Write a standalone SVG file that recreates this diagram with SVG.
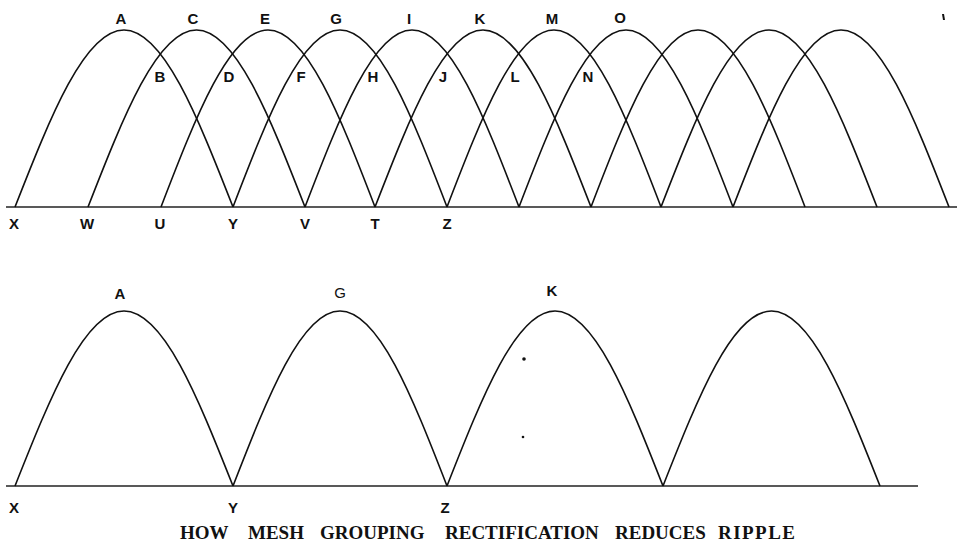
<svg xmlns="http://www.w3.org/2000/svg" width="961" height="543" viewBox="0 0 961 543">
<style>
.bg{fill:#ffffff}
.arc{fill:none;stroke:#111;stroke-width:1.6;stroke-linejoin:round}
.base{fill:none;stroke:#222;stroke-width:1.3}
.lbl{font-family:"Liberation Sans",Arial,sans-serif;font-weight:bold;font-size:15px;fill:#111;text-anchor:middle}
.lbln{font-family:"Liberation Sans",Arial,sans-serif;font-weight:normal;font-size:15px;fill:#111;text-anchor:middle}
.title{font-family:"Liberation Serif","Times New Roman",serif;font-weight:bold;font-size:19px;fill:#111}
.speck{fill:#111}
</style>
<rect class="bg" x="0" y="0" width="961" height="543"/>

<g id="top-waves">
  <line class="base" x1="6" y1="207" x2="957" y2="207"/>
  <path class="arc" d="M15,207 c35.58,-90.73 69.74,-177 109,-177 s73.42,86.27 109,177"/>
  <path class="arc" d="M88,207 c35.41,-90.73 69.42,-177 108.5,-177 s73.09,86.27 108.5,177"/>
  <path class="arc" d="M161,207 c34.92,-90.73 68.46,-177 107,-177 s72.08,86.27 107,177"/>
  <path class="arc" d="M233,207 c34.92,-90.73 68.46,-177 107,-177 s72.08,86.27 107,177"/>
  <path class="arc" d="M305,207 c34.92,-90.73 68.46,-177 107,-177 s72.08,86.27 107,177"/>
  <path class="arc" d="M375,207 c35.25,-90.73 69.10,-177 108,-177 s72.75,86.27 108,177"/>
  <path class="arc" d="M447,207 c34.92,-90.73 68.46,-177 107,-177 s72.08,86.27 107,177"/>
  <path class="arc" d="M519,207 c34.92,-90.73 68.46,-177 107,-177 s72.08,86.27 107,177"/>
  <path class="arc" d="M591,207 c34.92,-90.73 68.46,-177 107,-177 s72.08,86.27 107,177"/>
  <path class="arc" d="M661,207 c35.25,-90.73 69.10,-177 108,-177 s72.75,86.27 108,177"/>
  <path class="arc" d="M733,207 c35.25,-90.73 69.10,-177 108,-177 s72.75,86.27 108,177"/>
</g>

<g id="top-labels">
  <text class="lbl" x="121" y="24">A</text>
  <text class="lbl" x="193" y="24">C</text>
  <text class="lbl" x="265" y="24">E</text>
  <text class="lbl" x="336" y="24">G</text>
  <text class="lbl" x="409" y="24">I</text>
  <text class="lbl" x="480" y="24">K</text>
  <text class="lbl" x="552" y="24">M</text>
  <text class="lbl" x="620" y="23">O</text>
  <text class="lbl" x="160" y="82">B</text>
  <text class="lbl" x="229" y="82">D</text>
  <text class="lbl" x="301" y="82">F</text>
  <text class="lbl" x="373" y="82">H</text>
  <text class="lbl" x="443" y="82">J</text>
  <text class="lbl" x="515" y="82">L</text>
  <text class="lbl" x="588" y="82">N</text>
  <text class="lbl" x="14" y="229">X</text>
  <text class="lbl" x="87" y="229">W</text>
  <text class="lbl" x="160" y="229">U</text>
  <text class="lbl" x="233" y="229">Y</text>
  <text class="lbl" x="305" y="229">V</text>
  <text class="lbl" x="375" y="229">T</text>
  <text class="lbl" x="447" y="229">Z</text>
</g>

<g id="bottom-waves">
  <line class="base" x1="6" y1="486" x2="918" y2="486"/>
  <path class="arc" d="M15,486 c35.58,-89.71 69.74,-175 109,-175 s73.42,85.30 109,175"/>
  <path class="arc" d="M233,486 c34.92,-89.71 68.46,-175 107,-175 s72.08,85.30 107,175"/>
  <path class="arc" d="M447,486 c35.25,-89.71 69.10,-175 108,-175 s72.75,85.30 108,175"/>
  <path class="arc" d="M663,486 c35.41,-89.71 69.42,-175 108.5,-175 s73.09,85.30 108.5,175"/>
</g>

<g id="bottom-labels">
  <text class="lbl" x="120" y="299">A</text>
  <text class="lbln" x="340" y="298">G</text>
  <text class="lbl" x="552" y="296">K</text>
  <text class="lbl" x="14" y="513">X</text>
  <text class="lbl" x="233" y="513">Y</text>
  <text class="lbl" x="445" y="513">Z</text>
</g>

<g id="title">
  <text class="title" y="539"><tspan x="180">HOW</tspan><tspan x="248">MESH</tspan><tspan x="320">GROUPING</tspan><tspan x="445">RECTIFICATION</tspan><tspan x="615">REDUCES</tspan><tspan x="718" textLength="77" lengthAdjust="spacing">RIPPLE</tspan></text>
</g>

<g id="specks">
  <circle class="speck" cx="524" cy="359" r="1.8"/>
  <circle class="speck" cx="523" cy="437" r="1.3"/>
  <path class="speck" d="M942,14 l2,0 l1,6 l-2,0 z"/>
</g>
</svg>
